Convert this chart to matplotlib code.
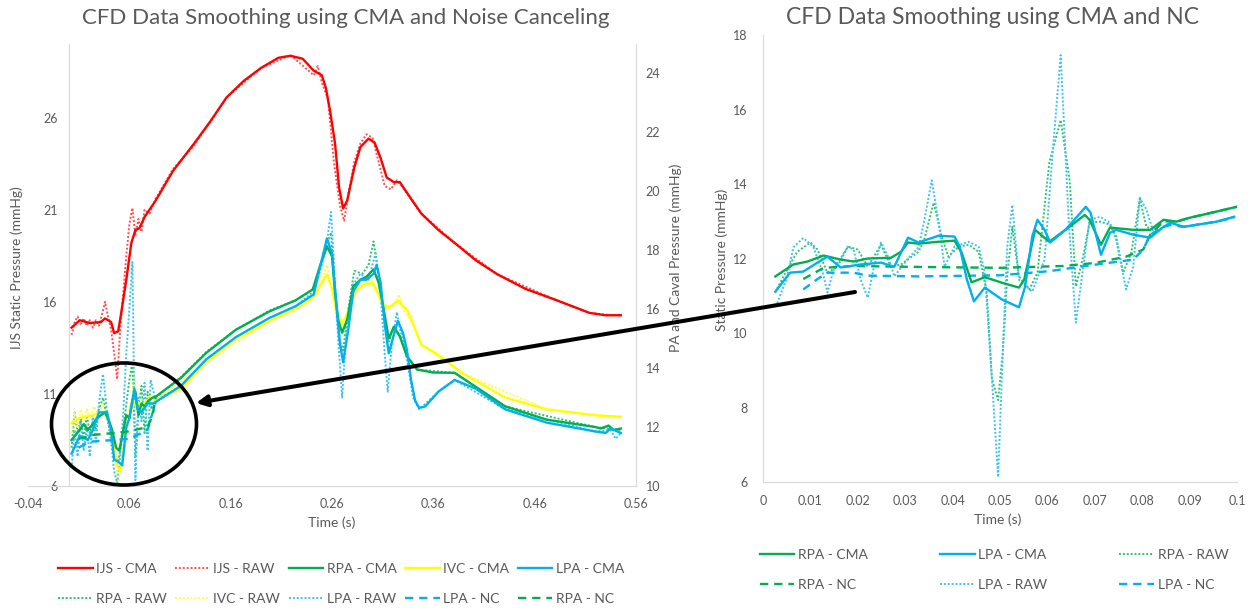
import matplotlib
matplotlib.use("Agg")
import matplotlib.pyplot as plt
from matplotlib.patches import Ellipse, FancyArrowPatch
from matplotlib.lines import Line2D

plt.rcParams['font.family'] = ['Lato', 'DejaVu Sans']

# ---------------- left chart data (time in s) ----------------
ijs_cma_t = [0.003, 0.011, 0.021, 0.032, 0.036, 0.042, 0.045, 0.049, 0.052, 0.057, 0.062, 0.066, 0.070,
             0.075, 0.086, 0.103, 0.124, 0.140, 0.156, 0.173, 0.190, 0.207, 0.219, 0.231, 0.242, 0.250,
             0.254, 0.258, 0.263, 0.267, 0.271, 0.275, 0.282, 0.288, 0.296, 0.302, 0.308, 0.314, 0.321,
             0.327, 0.333, 0.348, 0.365, 0.381, 0.402, 0.423, 0.451, 0.481, 0.514, 0.530, 0.545]
ijs_cma_v = [14.6, 15.0, 14.85, 14.9, 15.1, 14.9, 14.3, 14.4, 15.4, 17.2, 19.2, 19.9, 20.0,
             20.6, 21.5, 23.1, 24.6, 25.8, 27.1, 28.0, 28.7, 29.25, 29.36, 29.2, 28.55, 28.3,
             27.6, 26.4, 24.6, 22.2, 21.07, 21.5, 23.3, 24.4, 24.86, 24.65, 23.8, 22.75, 22.5,
             22.5, 22.0, 20.8, 19.9, 19.2, 18.25, 17.5, 16.7, 16.1, 15.4, 15.27, 15.27]

ijs_raw_t = [0.003, 0.006, 0.009, 0.012, 0.015, 0.018, 0.021, 0.024, 0.027, 0.030, 0.033, 0.036, 0.039,
             0.042, 0.045, 0.048, 0.051, 0.054, 0.057, 0.060, 0.063, 0.066, 0.069, 0.072, 0.075, 0.080,
             0.086, 0.103, 0.124, 0.156, 0.190, 0.219, 0.242, 0.246, 0.250, 0.256, 0.262, 0.268, 0.272,
             0.276, 0.282, 0.288, 0.294, 0.300, 0.306, 0.312, 0.318, 0.324, 0.330, 0.348, 0.381, 0.423,
             0.481, 0.514, 0.530, 0.545]
ijs_raw_v = [14.2, 14.9, 15.2, 14.8, 15.1, 14.7, 15.0, 14.6, 15.0, 14.7, 15.3, 16.0, 15.2,
             14.5, 13.2, 11.8, 14.5, 16.5, 18.5, 20.2, 21.1, 19.6, 20.5, 19.8, 21.0, 20.8,
             21.6, 23.2, 24.5, 27.1, 28.7, 29.4, 28.3, 28.8, 27.9, 27.0, 23.5, 21.2, 20.4,
             21.8, 23.6, 24.6, 25.1, 24.9, 23.6, 22.3, 22.1, 22.6, 22.2, 20.8, 19.2, 17.5,
             16.1, 15.4, 15.3, 15.27]

rpa_cma_t = [0.003, 0.011, 0.015, 0.019, 0.024, 0.028, 0.032, 0.036, 0.040, 0.043, 0.047, 0.050, 0.053,
             0.057, 0.060, 0.063, 0.066, 0.069, 0.072, 0.075, 0.079, 0.083, 0.086, 0.111, 0.136, 0.165,
             0.198, 0.224, 0.241, 0.248, 0.255, 0.260, 0.263, 0.266, 0.270, 0.275, 0.281, 0.288, 0.294,
             0.301, 0.306, 0.311, 0.316, 0.321, 0.327, 0.334, 0.344, 0.360, 0.381, 0.406, 0.431, 0.472,
             0.520, 0.525, 0.533, 0.538, 0.545]
rpa_cma_v = [11.56, 11.9, 12.1, 11.9, 12.1, 12.3, 12.4, 12.5, 12.2, 11.9, 11.3, 11.2, 11.7,
             12.4, 12.3, 12.9, 13.2, 12.4, 12.8, 12.7, 12.9, 13.0, 13.03, 13.67, 14.52, 15.3,
             15.92, 16.3, 16.67, 17.45, 18.13, 17.8, 16.55, 15.65, 15.2, 15.65, 16.77, 17.0, 17.1,
             17.35, 16.9, 16.0, 15.0, 15.4, 15.07, 14.4, 13.95, 13.85, 13.84, 13.27, 12.7, 12.25,
             12.0, 11.95, 12.05, 11.9, 11.95]

lpa_cma_t = [0.003, 0.011, 0.019, 0.024, 0.030, 0.038, 0.042, 0.045, 0.050, 0.053, 0.057, 0.060, 0.065,
             0.068, 0.072, 0.078, 0.083, 0.086, 0.111, 0.136, 0.165, 0.198, 0.224, 0.242, 0.248, 0.255,
             0.260, 0.264, 0.268, 0.271, 0.276, 0.281, 0.288, 0.294, 0.301, 0.304, 0.308, 0.312, 0.316,
             0.320, 0.325, 0.330, 0.334, 0.338, 0.342, 0.346, 0.352, 0.365, 0.381, 0.402, 0.431, 0.472,
             0.520, 0.530, 0.535, 0.545]
lpa_cma_v = [11.1, 11.7, 11.56, 11.9, 12.5, 12.5, 11.9, 10.9, 10.8, 10.7, 12.0, 12.3, 13.3,
             12.6, 12.5, 12.8, 12.8, 12.85, 13.4, 14.3, 15.05, 15.7, 16.1, 16.5, 17.4, 18.4,
             17.9, 16.3, 14.8, 14.2, 15.3, 16.6, 17.0, 17.0, 17.2, 17.5, 16.9, 15.5, 14.5,
             15.0, 15.6, 15.2, 14.6, 13.6, 12.9, 12.65, 12.7, 13.2, 13.6, 13.3, 12.6, 12.15,
             11.85, 11.8, 11.95, 11.8]

ivc_cma_t = [0.003, 0.010, 0.016, 0.024, 0.032, 0.038, 0.042, 0.045, 0.048, 0.051, 0.055, 0.057, 0.062,
             0.067, 0.072, 0.077, 0.083, 0.086, 0.111, 0.136, 0.165, 0.198, 0.224, 0.242, 0.250, 0.255,
             0.260, 0.265, 0.270, 0.276, 0.283, 0.290, 0.300, 0.310, 0.316, 0.322, 0.325, 0.330, 0.334,
             0.340, 0.348, 0.365, 0.390, 0.431, 0.472, 0.520, 0.545]
ivc_cma_v = [12.14, 12.3, 12.35, 12.4, 12.5, 12.4, 12.0, 11.3, 10.7, 10.5, 11.2, 11.9, 12.6,
             12.9, 12.7, 12.9, 13.0, 12.9, 13.3, 14.2, 15.0, 15.6, 16.0, 16.4, 16.9, 17.18,
             16.7, 15.9, 15.5, 15.9, 16.6, 16.8, 16.9, 16.2, 16.05, 16.2, 16.3, 16.1, 16.0,
             15.5, 14.8, 14.45, 13.8, 13.0, 12.6, 12.4, 12.35]

rpa_raw_t = [0.003, 0.006, 0.009, 0.012, 0.015, 0.018, 0.021, 0.024, 0.027, 0.030, 0.034, 0.037, 0.040,
             0.043, 0.046, 0.049, 0.052, 0.056, 0.060, 0.063, 0.066, 0.069, 0.072, 0.075, 0.078, 0.082,
             0.086, 0.111, 0.136, 0.165, 0.198, 0.224, 0.242, 0.250, 0.255, 0.259, 0.263, 0.267, 0.271,
             0.276, 0.282, 0.290, 0.296, 0.301, 0.306, 0.311, 0.316, 0.321, 0.327, 0.334, 0.344, 0.381,
             0.431, 0.520, 0.545]
rpa_raw_v = [11.3, 12.5, 11.8, 12.3, 11.6, 12.4, 11.8, 12.2, 11.9, 12.6, 13.0, 12.5, 12.0,
             11.6, 11.0, 10.8, 11.4, 12.5, 13.6, 14.2, 11.0, 12.6, 13.4, 11.8, 13.2, 12.6,
             13.0, 13.7, 14.55, 15.3, 15.95, 16.3, 16.7, 17.6, 18.2, 18.6, 16.5, 15.0, 14.6,
             16.0, 17.3, 17.2, 17.5, 18.3, 17.2, 15.8, 14.9, 15.4, 15.1, 14.4, 13.95, 13.84,
             12.7, 12.0, 11.9]

ivc_raw_t = [0.003, 0.006, 0.009, 0.012, 0.015, 0.018, 0.021, 0.025, 0.030, 0.034, 0.038, 0.042, 0.046,
             0.049, 0.052, 0.055, 0.058, 0.062, 0.065, 0.068, 0.072, 0.076, 0.080, 0.086, 0.136, 0.198,
             0.242, 0.250, 0.255, 0.260, 0.265, 0.270, 0.276, 0.283, 0.290, 0.300, 0.310, 0.316, 0.322,
             0.326, 0.330, 0.340, 0.348, 0.390, 0.472, 0.545]
ivc_raw_v = [11.8, 12.5, 12.0, 12.6, 12.2, 12.6, 12.3, 12.7, 12.4, 12.8, 12.3, 11.8, 10.8,
             10.1, 10.6, 11.8, 12.4, 12.9, 13.7, 12.5, 12.9, 12.6, 13.1, 12.9, 14.2, 15.6,
             16.4, 17.0, 17.5, 16.6, 15.6, 15.3, 16.0, 16.7, 16.8, 17.0, 16.1, 16.0, 16.2,
             16.5, 16.0, 15.5, 14.8, 13.8, 12.6, 12.3]

lpa_raw_t = [0.003, 0.006, 0.009, 0.012, 0.015, 0.018, 0.021, 0.024, 0.027, 0.030, 0.034, 0.039, 0.042,
             0.045, 0.048, 0.051, 0.054, 0.057, 0.060, 0.063, 0.066, 0.069, 0.072, 0.075, 0.078, 0.081,
             0.086, 0.111, 0.136, 0.165, 0.198, 0.224, 0.242, 0.250, 0.255, 0.259, 0.262, 0.266, 0.270,
             0.274, 0.280, 0.288, 0.296, 0.303, 0.308, 0.312, 0.315, 0.319, 0.324, 0.328, 0.334, 0.340,
             0.346, 0.365, 0.381, 0.431, 0.520, 0.535, 0.540, 0.545]
lpa_raw_v = [10.6, 11.9, 11.0, 12.3, 11.2, 12.0, 11.0, 12.4, 11.5, 12.8, 13.8, 12.2, 11.5,
             10.5, 10.1, 11.0, 12.5, 14.5, 16.0, 17.6, 10.2, 13.0, 12.2, 13.5, 11.2, 13.6,
             12.9, 13.4, 14.3, 15.0, 15.7, 16.1, 16.6, 17.5, 18.3, 19.3, 17.5, 15.0, 13.0,
             15.2, 16.8, 17.2, 17.0, 17.9, 16.5, 14.5, 13.2, 14.8, 15.9, 15.2, 14.3, 13.0,
             12.6, 13.2, 13.6, 12.6, 11.85, 11.9, 11.6, 11.8]

rpa_nc_t = [0.010, 0.024, 0.057, 0.078, 0.083, 0.086]
rpa_nc_v = [11.6, 11.73, 11.84, 12.0, 12.4, 13.0]
lpa_nc_t = [0.010, 0.020, 0.040, 0.060, 0.078, 0.086]
lpa_nc_v = [11.3, 11.5, 11.55, 11.6, 11.9, 12.85]

left_xticks = [-0.04, 0.06, 0.16, 0.26, 0.36, 0.46, 0.56]
left_xlabels = ["-0.04", "0.06", "0.16", "0.26", "0.36", "0.46", "0.56"]
left_yticks = [6, 11, 16, 21, 26]
right_yticks = [10, 12, 14, 16, 18, 20, 22, 24]

# ---------------- right chart data (zoom 0 - 0.1 s) ----------------
z_rpa_cma_t = [0.0026, 0.0064, 0.0094, 0.0128, 0.0164, 0.0191, 0.0221, 0.0270, 0.0291, 0.0306, 0.0328,
               0.0370, 0.0404, 0.0419, 0.0440, 0.0468, 0.0504, 0.0540, 0.0551, 0.0574, 0.0604, 0.0638,
               0.0679, 0.0689, 0.0713, 0.0732, 0.0781, 0.0817, 0.0845, 0.0872, 0.0902, 0.0957, 0.1000]
z_rpa_cma_v = [11.52, 11.84, 11.92, 12.08, 11.97, 11.92, 12.0, 12.02, 12.18, 12.43, 12.4,
               12.45, 12.48, 12.16, 11.36, 11.5, 11.35, 11.22, 11.43, 12.77, 12.45, 12.77,
               13.17, 13.04, 12.37, 12.83, 12.77, 12.77, 13.04, 12.99, 13.1, 13.26, 13.39]

z_lpa_cma_t = [0.0026, 0.0057, 0.0085, 0.0115, 0.0136, 0.0164, 0.0206, 0.0249, 0.0277, 0.0306, 0.0328,
               0.0370, 0.0404, 0.0415, 0.0430, 0.0445, 0.0468, 0.0504, 0.0540, 0.0553, 0.0568, 0.0579,
               0.0594, 0.0606, 0.0638, 0.0681, 0.0691, 0.0713, 0.0732, 0.0745, 0.0781, 0.0817, 0.0845,
               0.0860, 0.0887, 0.0957, 0.0994]
z_lpa_cma_v = [11.11, 11.62, 11.65, 11.89, 12.05, 11.76, 11.84, 11.89, 11.78, 12.56, 12.43,
               12.61, 12.59, 12.32, 11.44, 10.85, 11.22, 10.9, 10.69, 11.25, 12.59, 13.04,
               12.77, 12.43, 12.77, 13.39, 13.23, 12.1, 12.69, 12.77, 12.64, 12.56, 12.85,
               12.96, 12.85, 12.99, 13.12]

z_rpa_raw_t = [0.0026, 0.0051, 0.0072, 0.0100, 0.0115, 0.0136, 0.0157, 0.0179, 0.0200, 0.0221, 0.0249,
               0.0270, 0.0291, 0.0328, 0.0340, 0.0360, 0.0377, 0.0391, 0.0413, 0.0434, 0.0455, 0.0472,
               0.0483, 0.0496, 0.0506, 0.0515, 0.0526, 0.0540, 0.0562, 0.0579, 0.0604, 0.0628, 0.0647,
               0.0660, 0.0674, 0.0689, 0.0711, 0.0732, 0.0745, 0.0760, 0.0777, 0.0795, 0.0809, 0.0826,
               0.0845, 0.0872, 0.0902, 0.0957, 0.1000]
z_rpa_raw_v = [11.1, 11.7, 12.18, 12.43, 12.24, 11.62, 11.78, 12.32, 12.24, 11.78, 12.37,
               11.78, 11.84, 12.18, 12.5, 13.5, 12.59, 12.05, 12.32, 12.37, 12.18, 11.09,
               8.76, 8.2, 9.5, 11.5, 12.85, 11.52, 11.17, 11.62, 14.57, 15.72, 14.1,
               11.25, 11.97, 12.96, 12.99, 12.91, 12.59, 11.62, 12.16, 13.6, 12.85, 12.77,
               13.04, 12.99, 13.1, 13.26, 13.39]

z_lpa_raw_t = [0.0030, 0.0051, 0.0064, 0.0085, 0.0106, 0.0126, 0.0136, 0.0149, 0.0179, 0.0191, 0.0206,
               0.0221, 0.0234, 0.0249, 0.0264, 0.0277, 0.0306, 0.0328, 0.0340, 0.0356, 0.0370, 0.0383,
               0.0404, 0.0434, 0.0455, 0.0468, 0.0483, 0.0496, 0.0506, 0.0515, 0.0526, 0.0540, 0.0568,
               0.0594, 0.0612, 0.0628, 0.0645, 0.0660, 0.0674, 0.0689, 0.0711, 0.0732, 0.0745, 0.0766,
               0.0781, 0.0795, 0.0809, 0.0824, 0.0845, 0.0860, 0.0887, 0.0957, 0.0994]
z_lpa_raw_v = [10.8, 11.5, 12.3, 12.55, 12.32, 11.62, 11.09, 11.7, 12.32, 12.24, 11.43,
               10.95, 11.78, 12.43, 12.05, 11.52, 12.0, 12.3, 13.0, 14.1, 13.0, 11.78,
               12.32, 12.45, 12.32, 11.62, 8.76, 6.13, 9.5, 12.3, 13.44, 11.43, 11.11,
               11.97, 15.0, 17.46, 13.0, 10.28, 11.62, 13.04, 13.12, 12.96, 12.5, 11.17,
               11.78, 13.63, 13.31, 12.69, 12.85, 12.96, 12.85, 12.99, 13.12]

z_rpa_nc_t = [0.0085, 0.0128, 0.0191, 0.0291, 0.0500, 0.0634, 0.0700, 0.0766, 0.0802, 0.0817, 0.0845,
              0.0872, 0.0902, 0.0957, 0.1000]
z_rpa_nc_v = [11.45, 11.75, 11.8, 11.78, 11.75, 11.8, 11.88, 12.05, 12.24, 12.64, 13.0,
              12.99, 13.1, 13.26, 13.39]
z_lpa_nc_t = [0.0085, 0.0115, 0.0136, 0.0191, 0.0221, 0.0328, 0.0500, 0.0604, 0.0680, 0.0781, 0.0802,
              0.0817, 0.0845, 0.0860, 0.0887, 0.0957, 0.0994]
z_lpa_nc_v = [11.17, 11.45, 11.62, 11.62, 11.54, 11.52, 11.55, 11.66, 11.8, 11.97, 12.24,
              12.64, 12.85, 12.9, 12.85, 12.99, 13.1]

zoom_xticks = [0, 0.01, 0.02, 0.03, 0.04, 0.05, 0.06, 0.07, 0.08, 0.09, 0.1]
zoom_xlabels = ["0", "0.01", "0.02", "0.03", "0.04", "0.05", "0.06", "0.07", "0.08", "0.09", "0.1"]
zoom_yticks = [6, 8, 10, 12, 14, 16, 18]

# ---------------- styles ----------------
TXT = '#595959'
AXC = '#D9D9D9'
RED, RED_RAW = '#FF0000', '#FF5050'
GREEN, GREEN_RAW = '#00B050', '#2DC46B'
YEL, YEL_RAW = '#FFFF00', '#FFFF40'
BLUE, BLUE_RAW = '#00B0F0', '#3CC3F4'

cma = dict(lw=1.7, ls='-', solid_joinstyle='round')
raw = dict(lw=1.4, ls=(0, (1, 1)))
nc = dict(lw=1.7, ls=(0, (3.5, 2.5)))

fig = plt.figure(figsize=(12.5, 6.1), dpi=100)

# ---------------- left chart ----------------
ax = fig.add_axes([0.0224, 0.2033, 0.4864, 0.7246])
ax2 = ax.twinx()

ax.plot(ijs_raw_t, ijs_raw_v, color=RED_RAW, **raw)
ax.plot(ijs_cma_t, ijs_cma_v, color=RED, **cma)

ax2.plot(rpa_raw_t, rpa_raw_v, color=GREEN_RAW, **raw)
ax2.plot(ivc_raw_t, ivc_raw_v, color=YEL_RAW, **raw)
ax2.plot(lpa_raw_t, lpa_raw_v, color=BLUE_RAW, **raw)
ax2.plot(ivc_cma_t, ivc_cma_v, color=YEL, **cma)
ax2.plot(rpa_cma_t, rpa_cma_v, color=GREEN, **cma)
ax2.plot(lpa_cma_t, lpa_cma_v, color=BLUE, **cma)
ax2.plot(lpa_nc_t, lpa_nc_v, color=BLUE, **nc)
ax2.plot(rpa_nc_t, rpa_nc_v, color=GREEN, **nc)

ax.set_xlim(-0.04, 0.56)
ax.set_ylim(6, 30)
ax2.set_ylim(10, 25)
ax.set_xticks(left_xticks)
ax.set_xticklabels(left_xlabels)
ax.set_yticks(left_yticks)
ax2.set_yticks(right_yticks)

ax.spines['left'].set_position(('data', 0))
for s in ['top', 'right']:
    ax.spines[s].set_visible(False)
ax.spines['left'].set_color(AXC)
ax.spines['bottom'].set_color(AXC)
for s in ['top', 'left', 'bottom']:
    ax2.spines[s].set_visible(False)
ax2.spines['right'].set_color(AXC)
ax.tick_params(axis='x', length=0, pad=9, labelsize=9, labelcolor=TXT)
ax.tick_params(axis='y', length=0, pad=8, labelsize=9, labelcolor=TXT)
ax2.tick_params(axis='y', length=0, pad=7, labelsize=9, labelcolor=TXT)

fig.text(346 / 1250, 1 - 18 / 610, "CFD Data Smoothing using CMA and Noise Canceling",
         ha='center', va='center', fontsize=16, color=TXT)
fig.text(332 / 1250, 1 - 523 / 610, "Time (s)", ha='center', va='center', fontsize=10, color=TXT)
fig.text(17 / 1250, 1 - 268 / 610, "IJS Static Pressure (mmHg)", ha='center', va='center',
         rotation=90, fontsize=10, color=TXT)
fig.text(676 / 1250, 1 - 258 / 610, "PA and Caval Pressure (mmHg)", ha='center', va='center',
         rotation=90, fontsize=10, color=TXT)

# ---------------- right chart ----------------
axr = fig.add_axes([0.6104, 0.2098, 0.3792, 0.7328])
axr.plot(z_rpa_raw_t, z_rpa_raw_v, color=GREEN_RAW, **raw)
axr.plot(z_lpa_raw_t, z_lpa_raw_v, color=BLUE_RAW, **raw)
axr.plot(z_rpa_nc_t, z_rpa_nc_v, color=GREEN, **nc)
axr.plot(z_lpa_nc_t, z_lpa_nc_v, color=BLUE, **nc)
axr.plot(z_rpa_cma_t, z_rpa_cma_v, color=GREEN, **cma)
axr.plot(z_lpa_cma_t, z_lpa_cma_v, color=BLUE, **cma)

axr.set_xlim(0, 0.1)
axr.set_ylim(6, 18)
axr.set_xticks(zoom_xticks)
axr.set_xticklabels(zoom_xlabels)
axr.set_yticks(zoom_yticks)
for s in ['top', 'right']:
    axr.spines[s].set_visible(False)
axr.spines['left'].set_color(AXC)
axr.spines['bottom'].set_color(AXC)
axr.tick_params(axis='x', length=0, pad=9, labelsize=9, labelcolor=TXT)
axr.tick_params(axis='y', length=0, pad=11, labelsize=9, labelcolor=TXT)

fig.text(992 / 1250, 1 - 18 / 610, "CFD Data Smoothing using CMA and NC",
         ha='center', va='center', fontsize=16.5, color=TXT)
fig.text(998 / 1250, 1 - 520 / 610, "Time (s)", ha='center', va='center', fontsize=10, color=TXT)
fig.text(722 / 1250, 1 - 260 / 610, "Static Pressure (mmHg)", ha='center', va='center',
         rotation=90, fontsize=10, color=TXT)

# ---------------- legends ----------------
def h(color, style):
    return Line2D([], [], color=color, **style)

left_handles = [h(RED, cma), h(GREEN_RAW, raw), h(RED_RAW, raw), h(YEL_RAW, raw), h(GREEN, cma),
                h(BLUE_RAW, raw), h(YEL, cma), h(BLUE, nc), h(BLUE, cma), h(GREEN, nc)]
left_labels = ["IJS - CMA", "RPA - RAW", "IJS - RAW", "IVC - RAW", "RPA - CMA",
               "LPA - RAW", "IVC - CMA", "LPA - NC", "LPA - CMA", "RPA - NC"]
fig.legend(left_handles, left_labels, ncol=5, loc='center', bbox_to_anchor=(341 / 1250, 1 - 584 / 610),
           frameon=False, fontsize=10, labelcolor=TXT, handlelength=2.5, handletextpad=0.25,
           columnspacing=0.6, labelspacing=1.3)

right_handles = [h(GREEN, cma), h(GREEN, nc), h(BLUE, cma), h(BLUE_RAW, raw), h(GREEN_RAW, raw), h(BLUE, nc)]
right_labels = ["RPA - CMA", "RPA - NC", "LPA - CMA", "LPA - RAW", "RPA - RAW", "LPA - NC"]
fig.legend(right_handles, right_labels, ncol=3, loc='center', bbox_to_anchor=(994 / 1250, 1 - 570 / 610),
           frameon=False, fontsize=10, labelcolor=TXT, handlelength=2.5, handletextpad=0.25,
           columnspacing=5.2, labelspacing=1.3)

# ---------------- callout ----------------
fig.add_artist(Ellipse((124 / 1250, 1 - 424 / 610), 145 / 1250, 122 / 610, transform=fig.transFigure,
                       fill=False, ec='black', lw=2.6, zorder=10))
fig.add_artist(FancyArrowPatch((855 / 1250, 1 - 292 / 610), (196 / 1250, 1 - 403 / 610),
                               transform=fig.transFigure, arrowstyle='-|>', mutation_scale=16,
                               color='black', lw=2.9, shrinkA=0, shrinkB=0, zorder=10))

fig.savefig("out.png", dpi=100)
